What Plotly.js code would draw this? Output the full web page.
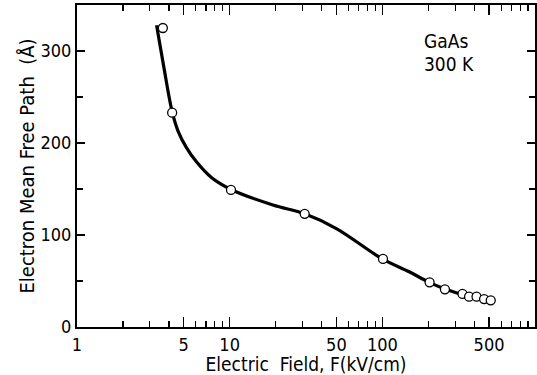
<!DOCTYPE html>
<html><head><meta charset="utf-8">
<script src="https://cdn.plot.ly/plotly-3.0.1.min.js"></script>
<style>html,body{margin:0;padding:0;background:#fff}</style>
</head><body>
<div id="plot" style="width:537px;height:375px"></div>
<script>
// Measured data points (open circles)
const fieldPts = [3.65, 4.2, 10.2, 31, 101, 204, 257, 335, 370, 414, 464, 513];
const mfpPts   = [325, 233, 149, 123, 74, 48.6, 41, 36, 33, 33, 30.4, 29];
// Smooth fitted curve
const fieldCurve = [3.32, 3.70, 4.2, 4.59, 5.21, 6.06, 7.59, 10.2, 19.2, 31, 50, 100, 150, 200, 250, 335];
const mfpCurve   = [328, 283, 234, 213, 195, 179.5, 162.5, 149.5, 132.6, 123, 107, 74, 60, 49, 42, 35];
// Tick labels
const xTickVals = [1, 5, 10, 50, 100, 500, 1000];
const xTickText = ['1', '5', '10', '50', '100', '500', ''];
const yTickVals = [0, 100, 200, 300];
const yTickText = ['0', '100', '200', '300'];

const fnt = "DejaVu Sans Condensed, Liberation Sans, sans-serif";

const traces = [
  {x: fieldCurve, y: mfpCurve, mode: 'lines', line: {color: '#000', width: 3.2, shape: 'spline', smoothing: 1}, hoverinfo: 'skip'},
  {x: fieldPts, y: mfpPts, mode: 'markers', marker: {size: 9, color: '#fff', line: {color: '#000', width: 1.3}}}
];

const layout = {
  width: 537, height: 375,
  margin: {l: 77, r: 2, t: 5, b: 48},
  paper_bgcolor: '#fff', plot_bgcolor: '#fff',
  showlegend: false,
  font: {family: fnt, color: '#000', size: 18},
  xaxis: {
    type: 'log', range: [0, 3],
    tickmode: 'array', tickvals: xTickVals, ticktext: xTickText,
    ticks: 'inside', ticklen: 10, tickwidth: 1.3, tickcolor: '#000',
    minor: {dtick: 'D1', ticks: 'inside', ticklen: 6, tickwidth: 1.2, tickcolor: '#000', showgrid: false},
    showline: true, linecolor: '#000', linewidth: 2, mirror: 'allticks',
    showgrid: false, zeroline: false,
    tickfont: {family: fnt, size: 18},
    title: {text: 'Electric  Field, F(kV/cm)', font: {family: fnt, size: 19}, standoff: 1}
  },
  yaxis: {
    range: [0, 350],
    tickmode: 'array', tickvals: yTickVals, ticktext: yTickText,
    ticks: 'inside', ticklen: 8, tickwidth: 1.3, tickcolor: '#000',
    minor: {dtick: 50, ticks: 'inside', ticklen: 6, tickwidth: 1.2, tickcolor: '#000', showgrid: false},
    showline: true, linecolor: '#000', linewidth: 2, mirror: 'allticks',
    showgrid: false, zeroline: false,
    tickfont: {family: fnt, size: 18},
    title: {text: 'Electron Mean Free Path  (Å)', font: {family: fnt, size: 20}, standoff: 0}
  },
  annotations: [
    {xref: 'paper', yref: 'paper', x: 0.754, y: 0.888, xanchor: 'left', yanchor: 'middle',
     showarrow: false, text: 'GaAs', font: {family: fnt, size: 19, color: '#000'}},
    {xref: 'paper', yref: 'paper', x: 0.754, y: 0.818, xanchor: 'left', yanchor: 'middle',
     showarrow: false, text: '300 K', font: {family: fnt, size: 19, color: '#000'}}
  ]
};

Plotly.newPlot('plot', traces, layout, {displayModeBar: false, staticPlot: true});
</script>
</body></html>
